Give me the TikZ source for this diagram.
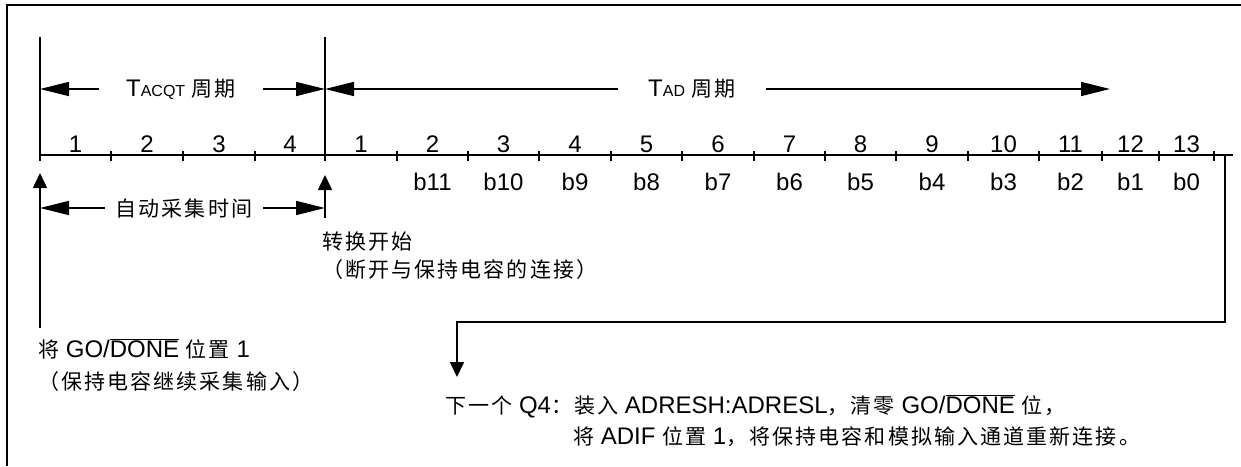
\documentclass[tikz,border=0pt]{standalone}
\usepackage{fontspec}
\setmainfont{Liberation Sans}
\newfontfamily\cjk[LetterSpace=10]{Noto Sans CJK SC}
\usepackage{tikz}
\usetikzlibrary{arrows.meta}
\newcommand{\zh}[1]{{\fontsize{21pt}{25pt}\cjk #1}}
\newcommand{\tsub}[1]{{\fontsize{16pt}{16pt}\selectfont #1}}
\newcommand{\ovl}[1]{$\overline{\hbox{#1}}$}

\begin{document}
\begin{tikzpicture}[x=1pt, y=-1pt, font=\fontsize{24pt}{28pt}\selectfont]
    % Styles
    \tikzstyle{axis} = [draw, line width=1.6pt]
    \tikzstyle{span} = [draw, line width=1.6pt, {Triangle[length=29pt,width=14pt]}-{Triangle[length=29pt,width=14pt]}]
    \tikzstyle{pointer} = [draw, line width=1.6pt, -{Triangle[length=15pt,width=14pt]}]
    \tikzstyle{gaplabel} = [fill=white, inner ysep=2pt]
    \tikzstyle{num} = [anchor=base, yshift=3pt, inner sep=0pt]
    \tikzstyle{bit} = [anchor=base, yshift=-35pt, inner sep=0pt]
    \tikzstyle{note} = [anchor=west, inner sep=0pt]

    \useasboundingbox (0,0) rectangle (1241,466);
    \draw[line width=2.2pt] (7,466) -- (7,5) -- (1241,5);

    % Timeline
    \foreach \x [count=\i from 0] in {40,111,183,255,325}
        \coordinate (a\i) at (\x,155);
    \foreach \x [count=\i from 0] in {325,397,468,539,611,682,754,825,896,968,1039,1102,1159,1214}
        \coordinate (d\i) at (\x,155);
    \coordinate (tend) at (1233,155);
    \coordinate (eoc) at (1225,155);
    \path [axis] (a0) -- (tend);
    \foreach \i in {1,2,3}
        \draw[line width=1.6pt] (a\i) ++(0,-4) -- ++(0,10);
    \foreach \i in {1,...,13}
        \draw[line width=1.6pt] (d\i) ++(0,-4) -- ++(0,10);
    \draw[line width=1.6pt] (40,37) -- (40,161);
    \draw[line width=1.6pt] (325,37) -- (325,161);

    % Cycle numbers and bits
    \foreach \i/\j in {0/1,1/2,2/3,3/4}
        \path (a\i) -- node[num] (an\j) {\j} (a\j);
    \foreach \i [evaluate=\i as \j using int(\i+1)] in {0,...,12}
        \path (d\i) -- node[num] (dn\j) {\j} (d\j);
    \foreach \i [evaluate=\i as \j using int(\i+1), evaluate=\i as \b using int(12-\i)] in {1,...,12}
        \path (d\i) -- node[bit] (b\b) {b\b} (d\j);

    % Periods
    \coordinate (acqL) at (40,89);
    \coordinate (acqR) at (325,89);
    \coordinate (tadL) at (325,89);
    \coordinate (tadR) at (1110,89);
    \coordinate (autoL) at (40,208);
    \coordinate (autoR) at (325,208);
    \path [span] (acqL) -- node[gaplabel, pos=0.495, inner xsep=27pt] (tacqt) {T\tsub{ACQT} \zh{周期}} (acqR);
    \path [span] (tadL) -- node[gaplabel, pos=0.4675, inner xsep=30pt] (tad) {T\tsub{AD} \zh{周期}} (tadR);
    \path [span] (autoL) -- node[gaplabel, pos=0.505, inner xsep=11pt] (auto) {\zh{自动采集时间}} (autoR);

    % Notes
    \node [note] (cvstart) at (322,242) {\zh{转换开始}};
    \node [note] (cvnote) at (322,270) {\zh{（断开与保持电容的连接）}};
    \node [note] (setgo) at (38,349) {\zh{将} GO/\ovl{DONE} \zh{位置} 1};
    \node [note] (hold) at (38,382) {\zh{（保持电容继续采集输入）}};
    \node [note] (q4) at (445,406) {\zh{下一个} Q4\zh{：装入} ADRESH:ADRESL\zh{，清零} GO/\ovl{DONE} \zh{位，}};
    \node [note] (q4b) at (573,437) {\zh{将} ADIF \zh{位置} 1\zh{，将保持电容和模拟输入通道重新连接。}};

    % Pointers
    \coordinate (goTail) at (40,328);
    \coordinate (cvTail) at (325,218);
    \coordinate (turn) at (457,322);
    \coordinate (q4top) at (457,377);
    \path [pointer, shorten >=18pt] (goTail) -- (a0);
    \path [pointer, shorten >=20pt] (cvTail) -- (a4);
    \path [pointer] (eoc) |- (turn) -- (q4top);
\end{tikzpicture}
\end{document}
